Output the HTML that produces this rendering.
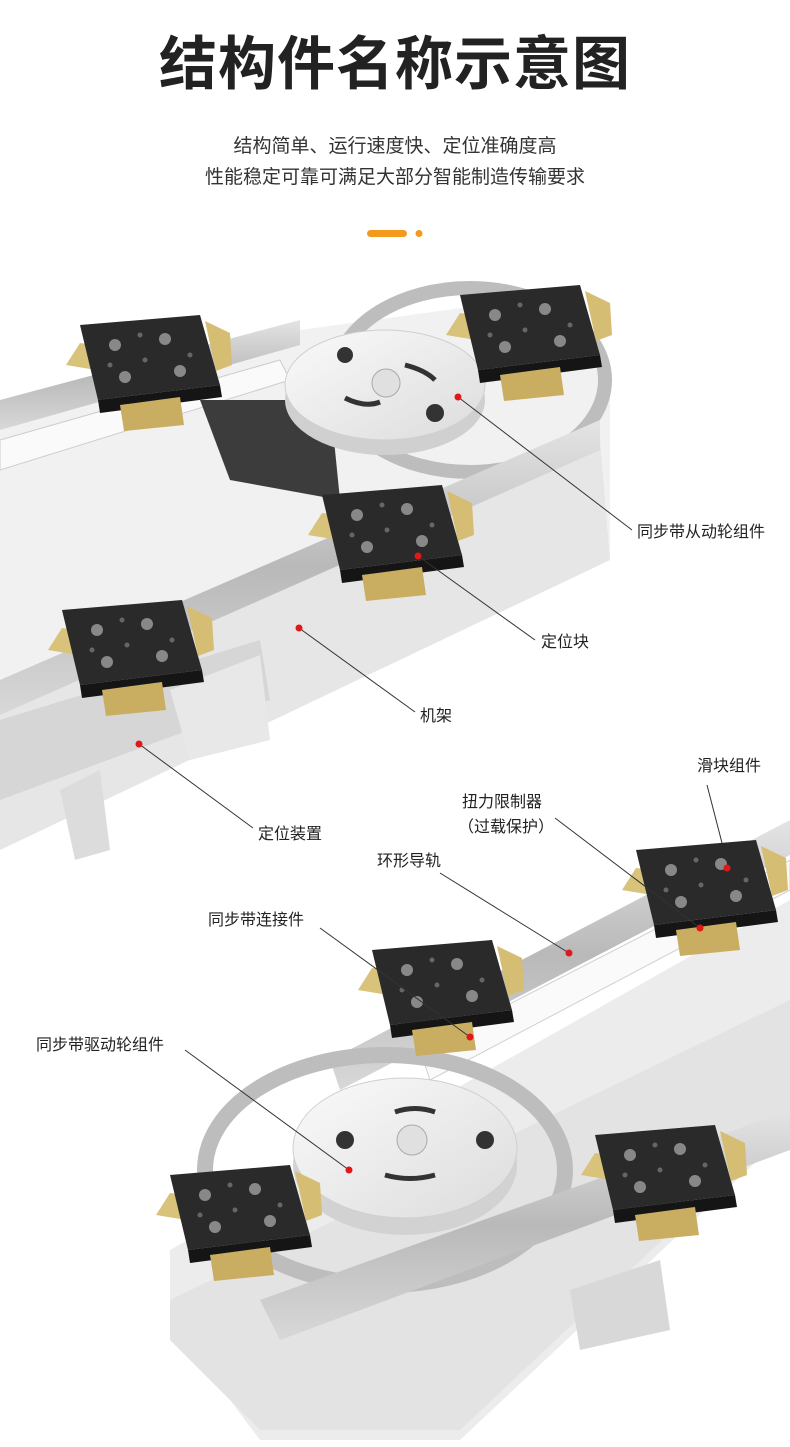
<!DOCTYPE html>
<html><head><meta charset="utf-8">
<style>
html,body{margin:0;padding:0;background:#fff;}
body{width:790px;height:1447px;position:relative;overflow:hidden;font-family:"Liberation Sans","Noto Sans CJK SC",sans-serif;}
.t{position:absolute;left:0;width:790px;text-align:center;color:#222;}
.l{position:absolute;font-size:16px;color:#222;white-space:nowrap;line-height:1;}
svg{position:absolute;left:0;top:0;}
</style></head><body>
<div class="t" style="top:30px;font-size:58px;font-weight:bold;letter-spacing:1px;line-height:70px;">结构件名称示意图</div>
<div class="t" style="top:136px;font-size:19px;line-height:22px;color:#333;">结构简单、运行速度快、定位准确度高</div>
<div class="t" style="top:167px;font-size:19px;line-height:22px;color:#333;">性能稳定可靠可满足大部分智能制造传输要求</div>
<svg width="790" height="1447" viewBox="0 0 790 1447">
<defs>
<linearGradient id="rail" x1="0" y1="0" x2="0" y2="1"><stop offset="0" stop-color="#e4e4e4"/><stop offset="0.5" stop-color="#b9b9b9"/><stop offset="1" stop-color="#d8d8d8"/></linearGradient>
<linearGradient id="disc" x1="0" y1="0" x2="1" y2="1"><stop offset="0" stop-color="#fafafa"/><stop offset="1" stop-color="#dcdcdc"/></linearGradient>
<g id="car">
<polygon points="0,18 -14,40 22,46 30,22" fill="#d9c27a"/>
<polygon points="0,0 120,-10 140,60 18,75" fill="#2a2a2a"/>
<polygon points="18,75 140,60 142,72 20,88" fill="#151515"/>
<polygon points="125,-4 150,8 152,40 136,46" fill="#d6bd74"/>
<polygon points="40,80 100,72 104,100 44,106" fill="#c9ae62"/>
<circle cx="35" cy="20" r="6" fill="#888"/><circle cx="85" cy="14" r="6" fill="#888"/>
<circle cx="45" cy="52" r="6" fill="#888"/><circle cx="100" cy="46" r="6" fill="#888"/>
<circle cx="60" cy="10" r="2.5" fill="#666"/><circle cx="65" cy="35" r="2.5" fill="#666"/><circle cx="110" cy="30" r="2.5" fill="#666"/><circle cx="30" cy="40" r="2.5" fill="#666"/>
</g>
</defs>
<rect x="367" y="230" width="40" height="7" rx="3.5" fill="#f39a1e"/>
<circle cx="419" cy="233.5" r="3.5" fill="#f39a1e"/>

<polygon points="0,430 300,330 520,300 610,370 610,560 0,850" fill="#f1f1f1"/>
<polygon points="0,700 600,440 610,560 0,850" fill="#e6e6e6"/>
<polygon points="0,400 300,320 300,345 0,430" fill="url(#rail)"/>
<polygon points="0,440 280,360 290,380 0,470" fill="#fafafa" stroke="#ccc"/>
<ellipse cx="470" cy="380" rx="135" ry="92" fill="none" stroke="#bdbdbd" stroke-width="14"/>
<polygon points="0,680 600,420 600,450 0,715" fill="url(#rail)"/>
<polygon points="200,400 330,400 340,500 230,480" fill="#3c3c3c"/>
<ellipse cx="385" cy="400" rx="100" ry="55" fill="#d0d0d0"/>
<ellipse cx="385" cy="385" rx="100" ry="55" fill="url(#disc)" stroke="#cfcfcf"/>
<circle cx="345" cy="355" r="8" fill="#333"/><circle cx="435" cy="413" r="9" fill="#333"/>
<circle cx="386" cy="383" r="14" fill="#e0e0e0" stroke="#aaa"/>
<path d="M345,398 Q365,408 380,402" stroke="#333" stroke-width="5" fill="none"/>
<path d="M405,365 Q425,370 435,380" stroke="#333" stroke-width="5" fill="none"/>
<polygon points="0,720 260,640 270,700 0,800" fill="#d6d6d6"/>
<polygon points="170,690 260,655 270,740 190,760" fill="#e8e8e8"/>
<polygon points="60,790 100,770 110,850 75,860" fill="#dcdcdc"/>
<use href="#car" x="80" y="325"/>
<use href="#car" x="460" y="295"/>
<use href="#car" x="322" y="495"/>
<use href="#car" x="62" y="610"/>

<polygon points="170,1250 790,900 790,1130 460,1440 260,1440 170,1320" fill="#ececec"/>
<polygon points="170,1300 790,1000 790,1120 460,1430 260,1430 170,1340" fill="#e3e3e3"/>
<polygon points="330,1060 790,820 790,855 340,1090" fill="url(#rail)"/>
<polygon points="420,1050 790,860 790,890 430,1080" fill="#fafafa" stroke="#d0d0d0"/>
<ellipse cx="385" cy="1170" rx="180" ry="115" fill="none" stroke="#bdbdbd" stroke-width="16"/>
<polygon points="260,1300 790,1110 790,1150 280,1340" fill="url(#rail)"/>
<ellipse cx="405" cy="1165" rx="112" ry="70" fill="#d2d2d2"/>
<ellipse cx="405" cy="1148" rx="112" ry="70" fill="url(#disc)" stroke="#cfcfcf"/>
<circle cx="345" cy="1140" r="9" fill="#333"/><circle cx="485" cy="1140" r="9" fill="#333"/>
<circle cx="412" cy="1140" r="15" fill="#e0e0e0" stroke="#aaa"/>
<path d="M395,1112 Q415,1105 435,1112" stroke="#333" stroke-width="5" fill="none"/>
<path d="M385,1175 Q410,1182 435,1175" stroke="#333" stroke-width="5" fill="none"/>
<polygon points="570,1290 660,1260 670,1330 580,1350" fill="#d8d8d8"/>
<use href="#car" x="636" y="850"/>
<use href="#car" x="372" y="950"/>
<use href="#car" x="170" y="1175"/>
<use href="#car" x="595" y="1135"/>

<g stroke="#333" stroke-width="1" fill="none">
<line x1="458" y1="397" x2="632" y2="530"/>
<line x1="418" y1="556" x2="535" y2="640"/>
<line x1="299" y1="628" x2="415" y2="712"/>
<line x1="139" y1="744" x2="253" y2="828"/>
<line x1="707" y1="785" x2="722" y2="843"/>
<line x1="555" y1="818" x2="700" y2="928"/>
<line x1="440" y1="873" x2="569" y2="953"/>
<line x1="320" y1="928" x2="470" y2="1037"/>
<line x1="185" y1="1050" x2="349" y2="1170"/>
</g>
<g fill="#e01818">
<circle cx="458" cy="397" r="3.5"/><circle cx="418" cy="556" r="3.5"/><circle cx="299" cy="628" r="3.5"/>
<circle cx="139" cy="744" r="3.5"/><circle cx="727" cy="868" r="3.5"/><circle cx="700" cy="928" r="3.5"/>
<circle cx="569" cy="953" r="3.5"/><circle cx="470" cy="1037" r="3.5"/><circle cx="349" cy="1170" r="3.5"/>
</g>
</svg>
<div class="l" style="left:637px;top:525px;">同步带从动轮组件</div>
<div class="l" style="left:541px;top:635px;">定位块</div>
<div class="l" style="left:420px;top:709px;">机架</div>
<div class="l" style="left:258px;top:827px;">定位装置</div>
<div class="l" style="left:697px;top:759px;">滑块组件</div>
<div class="l" style="left:462px;top:795px;">扭力限制器</div>
<div class="l" style="left:458px;top:820px;">（过载保护）</div>
<div class="l" style="left:377px;top:854px;">环形导轨</div>
<div class="l" style="left:208px;top:913px;">同步带连接件</div>
<div class="l" style="left:36px;top:1038px;">同步带驱动轮组件</div>
</body></html>
